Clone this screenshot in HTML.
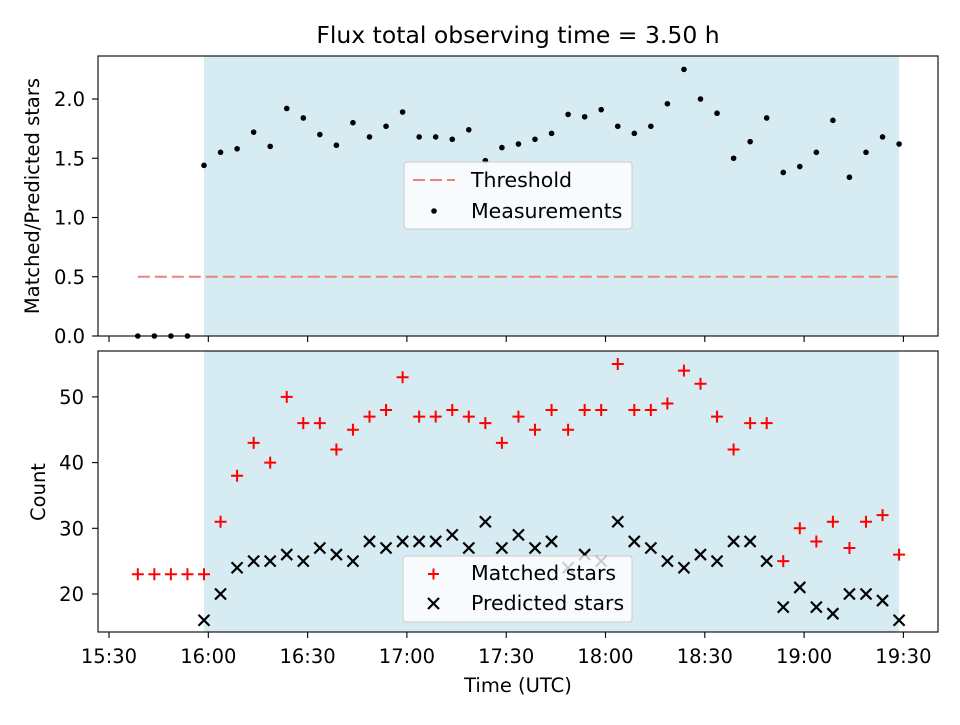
<!DOCTYPE html>
<html><head><meta charset="utf-8"><style>
body{margin:0;background:#fff}
svg{font-family:"DejaVu Sans","Liberation Sans",sans-serif}
</style></head><body>
<svg id="c" width="960" height="720" xmlns="http://www.w3.org/2000/svg"></svg>
<script>
const startMin = 8.7; // minutes after 15:30 of first sample
const stepMin = 5;
const ratioValues = [0,0,0,0,1.44,1.55,1.58,1.72,1.60,1.92,1.84,1.70,1.61,1.80,1.68,1.77,1.89,1.68,1.68,1.66,1.74,1.48,1.59,1.62,1.66,1.71,1.87,1.85,1.91,1.77,1.71,1.77,1.96,2.25,2.00,1.88,1.50,1.64,1.84,1.38,1.43,1.55,1.82,1.34,1.55,1.68,1.62];
const matchedValues = [23,23,23,23,23,31,38,43,40,50,46,46,42,45,47,48,53,47,47,48,47,46,43,47,45,48,45,48,48,55,48,48,49,54,52,47,42,46,46,25,30,28,31,27,31,32,26];
const predictedValues = [null,null,null,null,16,20,24,25,25,26,25,27,26,25,28,27,28,28,28,29,27,31,27,29,27,28,24,26,25,31,28,27,25,24,26,25,28,28,25,18,21,18,17,20,20,19,16];
const threshold = 0.5;
const xTickLabels = ["15:30","16:00","16:30","17:00","17:30","18:00","18:30","19:00","19:30"];
const topYTicks = [0.0,0.5,1.0,1.5,2.0];
const botYTicks = [20,30,40,50];
const shadeStartIdx = 4, shadeEndIdx = 46;

const svg = document.getElementById('c');
const NS = 'http://www.w3.org/2000/svg';
function mk(tag, attrs, parent){const e=document.createElementNS(NS,tag);for(const k in attrs)e.setAttribute(k,attrs[k]);(parent||svg).appendChild(e);return e;}
const L=98,R=938, T1=56,B1=336, T2=351,B2=632;
const xs = m => 109 + m*3.31;
const tOf = i => startMin + stepMin*i;
const y1 = v => 336 - v*118.5;
const y2 = v => 594 - (v-20)*6.57;
const FT=19.5, FL=20.5;

let e;
e=mk('rect',{x:xs(tOf(shadeStartIdx)),y:T1,width:xs(tOf(shadeEndIdx))-xs(tOf(shadeStartIdx)),height:B1-T1,fill:'#add8e6','fill-opacity':0.5});


e=mk('rect',{x:xs(tOf(shadeStartIdx)),y:T2,width:xs(tOf(shadeEndIdx))-xs(tOf(shadeStartIdx)),height:B2-T2,fill:'#add8e6','fill-opacity':0.5});



e=mk('line',{x1:xs(tOf(0)),x2:xs(tOf(ratioValues.length-1)),y1:y1(threshold),y2:y1(threshold),stroke:'#f08080','stroke-width':2.1,'stroke-dasharray':'12,5'});



ratioValues.forEach((v,i)=>{
  const p=mk('circle',{cx:xs(tOf(i)),cy:y1(v),r:2.8,fill:'#000'});
  
  
});
matchedValues.forEach((v,i)=>{
  const x=xs(tOf(i)),y=y2(v);
  const p=mk('path',{d:`M${x-6},${y}h12M${x},${y-6}v12`,stroke:'#f00','stroke-width':2});
  
  
});
predictedValues.forEach((v,i)=>{
  if(v===null)return;
  const x=xs(tOf(i)),y=y2(v);
  const p=mk('path',{d:`M${x-5.5},${y-5.5}l11,11M${x-5.5},${y+5.5}l11,-11`,stroke:'#000','stroke-width':2.2});
  
  
});

e=mk('rect',{x:L,y:T1,width:R-L,height:B1-T1,fill:'none',stroke:'#000','stroke-width':1.1});


e=mk('rect',{x:L,y:T2,width:R-L,height:B2-T2,fill:'none',stroke:'#000','stroke-width':1.1});



xTickLabels.forEach((lab,i)=>{
  const x=xs(i*30);
  mk('line',{x1:x,x2:x,y1:B1,y2:B1+6,stroke:'#000','stroke-width':1.1});
  mk('line',{x1:x,x2:x,y1:B2,y2:B2+6,stroke:'#000','stroke-width':1.1});
  const t=mk('text',{x:x,y:B2+31,'text-anchor':'middle','font-size':FT});
  t.textContent=lab;
  
  
});
topYTicks.forEach(v=>{
  const y=y1(v);
  mk('line',{x1:L-6,x2:L,y1:y,y2:y,stroke:'#000','stroke-width':1.1});
  const t=mk('text',{x:L-13,y:y+7,'text-anchor':'end','font-size':FT});
  t.textContent=v.toFixed(1);
  
  
});
botYTicks.forEach(v=>{
  const y=y2(v);
  mk('line',{x1:L-6,x2:L,y1:y,y2:y,stroke:'#000','stroke-width':1.1});
  const t=mk('text',{x:L-14,y:y+7,'text-anchor':'end','font-size':FT});
  t.textContent=v;
  
  
});

e=mk('text',{x:518,y:43,'text-anchor':'middle','font-size':23.5});
e.textContent='Flux total observing time = 3.50 h';


e=mk('text',{x:518,y:692,'text-anchor':'middle','font-size':FT});
e.textContent='Time (UTC)';


e=mk('text',{x:0,y:0,'text-anchor':'middle','font-size':FT,transform:'translate(39,196) rotate(-90)'});
e.textContent='Matched/Predicted stars';


e=mk('text',{x:0,y:0,'text-anchor':'middle','font-size':FT,transform:'translate(45,492) rotate(-90)'});
e.textContent='Count';



const lg1=mk('g',{});


mk('rect',{x:404,y:162,width:228,height:67,rx:3,fill:'#fff','fill-opacity':0.8,stroke:'#ccc'},lg1);
mk('line',{x1:413,x2:455,y1:180,y2:180,stroke:'#f08080','stroke-width':2.1,'stroke-dasharray':'12,5'},lg1);
e=mk('text',{x:471,y:187,'font-size':FL},lg1);e.textContent='Threshold';


mk('circle',{cx:434,cy:211,r:2.8,fill:'#000'},lg1);
e=mk('text',{x:471,y:218,'font-size':FL},lg1);e.textContent='Measurements';



const lg2=mk('g',{});


mk('rect',{x:403,y:556,width:229,height:66,rx:3,fill:'#fff','fill-opacity':0.8,stroke:'#ccc'},lg2);
mk('path',{d:'M428,574h11M433.5,568.5v11',stroke:'#f00','stroke-width':2},lg2);
e=mk('text',{x:471,y:580,'font-size':FL},lg2);e.textContent='Matched stars';


mk('path',{d:'M428,598l11,11M428,609l11,-11',stroke:'#000','stroke-width':2.2},lg2);
e=mk('text',{x:471,y:610,'font-size':FL},lg2);e.textContent='Predicted stars';


</script>
</body></html>
